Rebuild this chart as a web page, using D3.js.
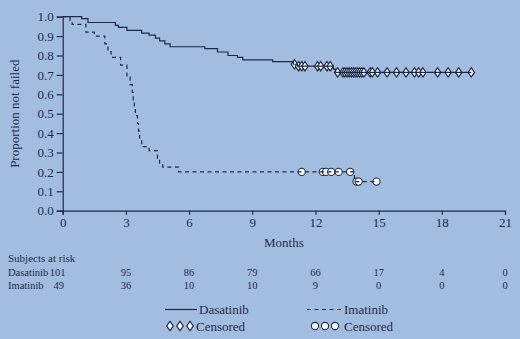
<!DOCTYPE html>
<html lang="en">
<head>
  <meta charset="UTF-8">
  <title>Proportion not failed - Dasatinib vs Imatinib</title>
  <script src="https://d3js.org/d3.v7.min.js" charset="utf-8"></script>
<style>
body { margin: 0; background: #a3bde0; }
svg text { font-family: "Liberation Serif", "Times New Roman", Times, serif; fill: #1c2a48; }
.axis path, .axis line { stroke: #1c2a48; stroke-width: 1.2; }
.axis text { font-size: 13px; }
</style>
</head>
<body>
<div id="chart"></div>
<script>

// step curves: [month, proportion after step]
var dasatinibSteps = [[0,1.0],[0.9,0.99],[1.2,0.97],[2.5,0.955],[2.65,0.945],[3.05,0.93],
  [3.75,0.915],[4.1,0.905],[4.4,0.89],[4.6,0.875],[4.85,0.86],[5.1,0.845],[6.75,0.835],
  [7.35,0.818],[7.85,0.80],[8.3,0.79],[8.55,0.777],[9.97,0.768],[10.95,0.755],[11.15,0.745],
  [12.85,0.73],[12.95,0.713]];
var dasatinibEnd = 19.4;
var dasatinibCensored = [11.0,11.2,11.35,11.5,12.1,12.25,12.55,12.7,13.05,13.3,13.4,13.5,13.6,
  13.7,13.8,13.9,14.0,14.1,14.2,14.3,14.6,14.7,14.95,15.4,15.85,16.3,16.7,16.9,17.1,17.8,18.3,18.8,19.4];

var imatinibSteps = [[0,1.0],[0.35,0.98],[0.45,0.96],[1.1,0.92],[1.5,0.90],[2.0,0.86],[2.15,0.82],
  [2.3,0.79],[2.75,0.75],[3.05,0.69],[3.2,0.65],[3.3,0.61],[3.35,0.57],[3.4,0.53],[3.45,0.49],
  [3.55,0.45],[3.6,0.41],[3.65,0.37],[3.75,0.33],[4.1,0.31],[4.5,0.27],[4.6,0.245],[4.75,0.225],
  [5.5,0.20],[13.85,0.15]];
var imatinibEnd = 14.9;
var imatinibCensored = [11.35,12.35,12.5,12.75,13.1,13.65,13.95,14.05,14.9];

var riskMonths = [0,3,6,9,12,15,18,21];
var riskDasatinib = [101,95,86,79,66,17,4,0];
var riskImatinib = [49,36,10,10,9,0,0,0];

var xTicks = [0,3,6,9,12,15,18,21];
var yTicks = d3.range(0, 11).map(d => d / 10);

var width = 520, height = 339;
var margin = ({top: 16.7, right: 15, bottom: 128.3, left: 62.7});
var ink = "#1c2a48";

var svg = d3.select('#chart').append('svg')
  .attr("width", width)
  .attr("height", height);

var x = d3.scaleLinear()
  .domain([0, 21])
  .range([margin.left, width - margin.right]);

var y = d3.scaleLinear()
  .domain([0, 1])
  .range([height - margin.bottom, margin.top]);

svg.append('g')
  .attr("class", "axis")
  .attr("transform", "translate(0," + y(0) + ")")
  .call(d3.axisBottom(x).tickValues(xTicks).tickFormat(d3.format("d")).tickSizeOuter(0).tickSize(4).tickPadding(3));

svg.append('g')
  .attr("class", "axis")
  .attr("transform", "translate(" + x(0) + ",0)")
  .call(d3.axisLeft(y).tickValues(yTicks).tickFormat(d3.format(".1f")).tickSizeOuter(0).tickSize(6).tickPadding(3));

svg.append("text")
  .attr("transform", "translate(19," + y(0.5) + ") rotate(-90)")
  .attr("text-anchor", "middle")
  .style("font-size", "13px")
  .text("Proportion not failed");

svg.append("text")
  .attr("x", x(10.5))
  .attr("y", 247)
  .attr("text-anchor", "middle")
  .style("font-size", "13px")
  .text("Months");

function stepValue(steps, t) {
  var v = steps[0][1];
  steps.forEach(s => { if (s[0] <= t) v = s[1]; });
  return v;
}

var line = d3.line()
  .curve(d3.curveStepAfter)
  .x(d => x(d[0]))
  .y(d => y(d[1]));

// censored markers go under the curves
var diamond = d3.symbol().type(d3.symbolDiamond).size(28);

svg.append("g").selectAll("path")
  .data(dasatinibCensored)
  .join("path")
  .attr("transform", d => "translate(" + x(d) + "," + y(stepValue(dasatinibSteps, d)) + ") scale(1.15,0.95)")
  .attr("d", diamond)
  .attr("fill", "white")
  .attr("stroke", ink)
  .attr("stroke-width", 1.1);

svg.append("g").selectAll("circle")
  .data(imatinibCensored)
  .join("circle")
  .attr("cx", d => x(d))
  .attr("cy", d => y(stepValue(imatinibSteps, d)))
  .attr("r", 3.6)
  .attr("fill", "white")
  .attr("stroke", ink)
  .attr("stroke-width", 1.1);

svg.append("path")
  .datum(dasatinibSteps.concat([[dasatinibEnd, stepValue(dasatinibSteps, dasatinibEnd)]]))
  .attr("fill", "none")
  .attr("stroke", ink)
  .attr("stroke-width", 1.2)
  .attr("d", line);

svg.append("path")
  .datum(imatinibSteps.concat([[imatinibEnd, stepValue(imatinibSteps, imatinibEnd)]]))
  .attr("fill", "none")
  .attr("stroke", ink)
  .attr("stroke-width", 1.2)
  .attr("stroke-dasharray", "4,3.5")
  .attr("d", line);

// subjects at risk table
var risk = svg.append("g").style("font-size", "10.5px");
risk.append("text").attr("x", 8).attr("y", 262).style("font-size", "11px").text("Subjects at risk");
risk.append("text").attr("x", 8).attr("y", 276).text("Dasatinib");
risk.append("text").attr("x", 8).attr("y", 289).text("Imatinib");

risk.selectAll(".rd")
  .data(riskDasatinib)
  .join("text")
  .attr("x", (d, i) => i === 0 ? x(riskMonths[i]) - 5 : x(riskMonths[i]))
  .attr("y", 276)
  .attr("text-anchor", "middle")
  .text(d => d);

risk.selectAll(".ri")
  .data(riskImatinib)
  .join("text")
  .attr("x", (d, i) => i === 0 ? x(riskMonths[i]) - 4 : x(riskMonths[i]))
  .attr("y", 289)
  .attr("text-anchor", "middle")
  .text(d => d);

// legend
var legend = svg.append("g").style("font-size", "13px");
legend.append("line").attr("x1", 165).attr("x2", 197).attr("y1", 309.5).attr("y2", 309.5)
  .attr("stroke", ink).attr("stroke-width", 1.2);
legend.append("text").attr("x", 199).attr("y", 314).text("Dasatinib");
[170, 180, 190].forEach(cx => {
  legend.append("path")
    .attr("transform", "translate(" + cx + ",326) scale(1.15,0.95)")
    .attr("d", diamond).attr("fill", "white").attr("stroke", ink).attr("stroke-width", 1.1);
});
legend.append("text").attr("x", 196).attr("y", 331).text("Censored");

legend.append("line").attr("x1", 307).attr("x2", 342).attr("y1", 309.5).attr("y2", 309.5)
  .attr("stroke", ink).attr("stroke-width", 1.2).attr("stroke-dasharray", "4,3.5");
legend.append("text").attr("x", 344).attr("y", 314).text("Imatinib");
[315, 325, 335].forEach(cx => {
  legend.append("circle").attr("cx", cx).attr("cy", 326).attr("r", 3.6)
    .attr("fill", "white").attr("stroke", ink).attr("stroke-width", 1.1);
});
legend.append("text").attr("x", 344).attr("y", 331).text("Censored");

</script>
</body>
</html>
